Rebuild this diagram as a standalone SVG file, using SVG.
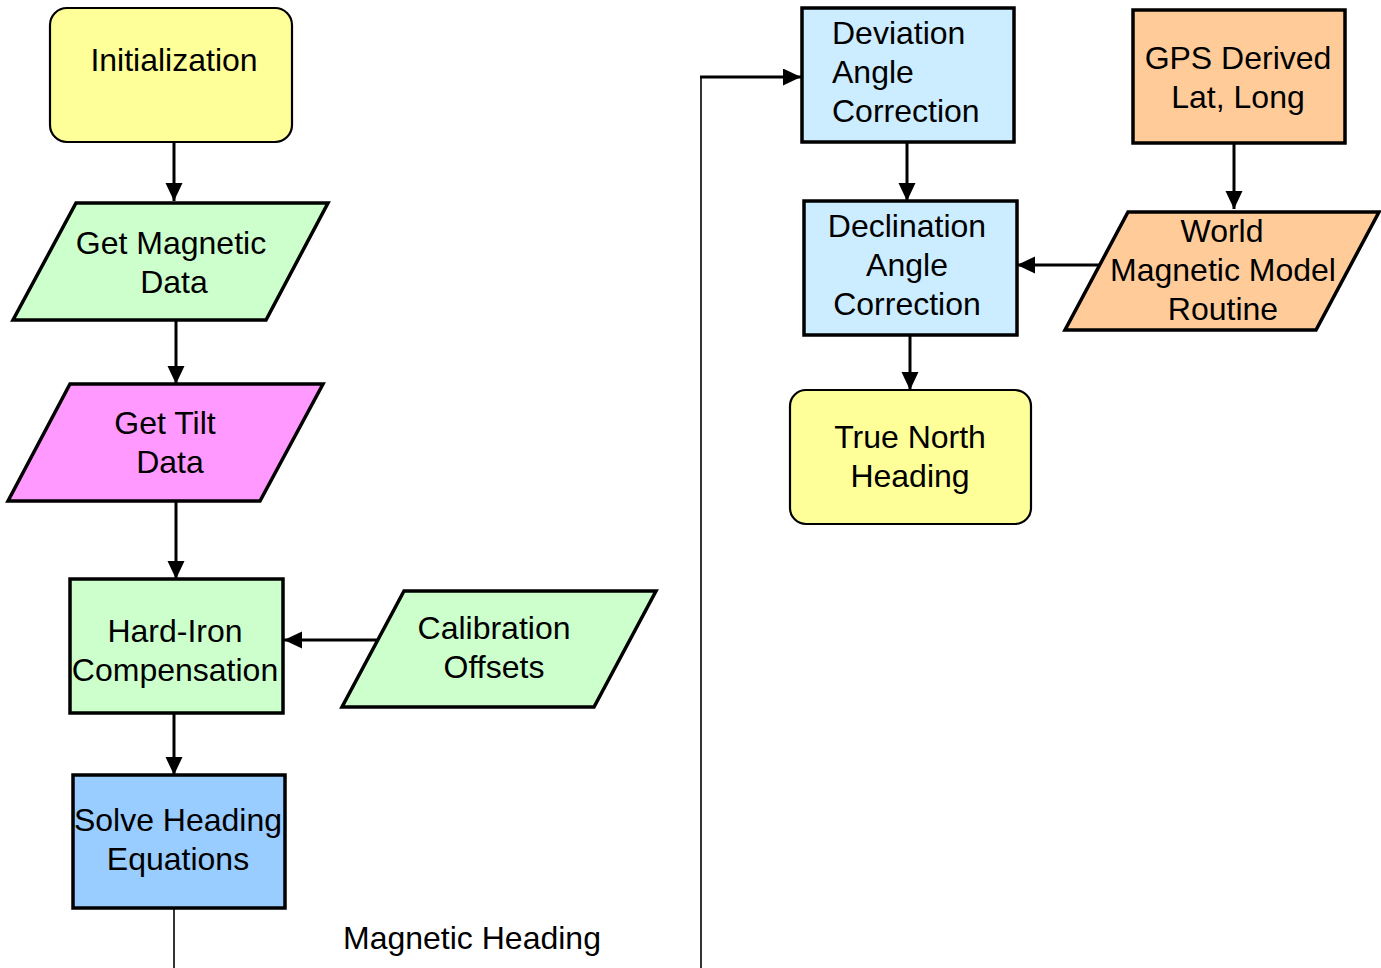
<svg xmlns="http://www.w3.org/2000/svg" width="1381" height="968" viewBox="0 0 1381 968">
<defs>
<marker id="ah" markerUnits="userSpaceOnUse" markerWidth="18" markerHeight="18" refX="18" refY="8.5" orient="auto">
<path d="M0,0 L18,8.5 L0,17 z" fill="#000"/>
</marker>
<style>
.t{font-family:"Liberation Sans",Arial,sans-serif;font-size:32px;fill:#000;text-anchor:middle}
.s{stroke:#000;stroke-width:3.5}
.c{stroke:#000;stroke-width:3;fill:none}
.th{stroke:#000;stroke-width:1.6;fill:none}
</style>
</defs>
<rect width="1381" height="968" fill="#fff"/>
<g id="connectors">
<line class="c" x1="174" y1="142" x2="174" y2="201" marker-end="url(#ah)"/>
<line class="c" x1="176" y1="320" x2="176" y2="384" marker-end="url(#ah)"/>
<line class="c" x1="176" y1="501" x2="176" y2="579" marker-end="url(#ah)"/>
<line class="c" x1="377" y1="640" x2="284" y2="640" marker-end="url(#ah)"/>
<line class="c" x1="174" y1="713" x2="174" y2="775" marker-end="url(#ah)"/>
<line class="th" x1="174" y1="908" x2="174" y2="968"/>
<line class="th" x1="701" y1="968" x2="701" y2="77"/>
<line class="c" x1="700" y1="77" x2="801" y2="77" marker-end="url(#ah)"/>
<line class="c" x1="907" y1="142" x2="907" y2="201" marker-end="url(#ah)"/>
<line class="c" x1="1234" y1="143" x2="1234" y2="209" marker-end="url(#ah)"/>
<line class="c" x1="1101" y1="265" x2="1017" y2="265" marker-end="url(#ah)"/>
<line class="c" x1="910" y1="335" x2="910" y2="390" marker-end="url(#ah)"/>
</g>
<g id="initialization">
<rect x="50" y="8" width="242" height="134" rx="17" fill="#FFFF99" stroke="#000" stroke-width="2.2"/>
<text class="t" x="174" y="71">Initialization</text>
</g>
<g id="get-magnetic-data">
<polygon class="s" points="76,203 328,203 266,320 13,320" fill="#CCFFCC"/>
<text class="t" x="171" y="254">Get Magnetic</text>
<text class="t" x="174" y="293">Data</text>
</g>
<g id="get-tilt-data">
<polygon class="s" points="70,384 323,384 260,501 8,501" fill="#FF99FF"/>
<text class="t" x="165" y="434">Get Tilt</text>
<text class="t" x="170" y="473">Data</text>
</g>
<g id="hard-iron">
<rect class="s" x="70" y="579" width="213" height="134" fill="#CCFFCC"/>
<text class="t" x="175" y="642">Hard-Iron</text>
<text class="t" x="175" y="681">Compensation</text>
</g>
<g id="calibration-offsets">
<polygon class="s" points="404,591 656,591 594,707 342,707" fill="#CCFFCC"/>
<text class="t" x="494" y="639">Calibration</text>
<text class="t" x="494" y="678">Offsets</text>
</g>
<g id="solve-heading">
<rect class="s" x="73" y="775" width="212" height="133" fill="#99CCFF"/>
<text class="t" x="178" y="831">Solve Heading</text>
<text class="t" x="178" y="870">Equations</text>
</g>
<g id="magnetic-heading-label">
<text class="t" x="343" y="949" style="text-anchor:start">Magnetic Heading</text>
</g>
<g id="deviation">
<rect class="s" x="802" y="8" width="212" height="134" fill="#CCECFF"/>
<text class="t" x="832" y="44" style="text-anchor:start">Deviation</text>
<text class="t" x="832" y="83" style="text-anchor:start">Angle</text>
<text class="t" x="832" y="122" style="text-anchor:start">Correction</text>
</g>
<g id="gps">
<rect class="s" x="1133" y="10" width="212" height="133" fill="#FFCC99"/>
<text class="t" x="1238" y="69">GPS Derived</text>
<text class="t" x="1238" y="108">Lat, Long</text>
</g>
<g id="declination">
<rect class="s" x="804" y="201" width="213" height="134" fill="#CCECFF"/>
<text class="t" x="907" y="237">Declination</text>
<text class="t" x="907" y="276">Angle</text>
<text class="t" x="907" y="315">Correction</text>
</g>
<g id="wmm">
<polygon class="s" points="1128,212 1379,212 1316,330 1065,330" fill="#FFCC99"/>
<text class="t" x="1222" y="242">World</text>
<text class="t" x="1223" y="281">Magnetic Model</text>
<text class="t" x="1223" y="320">Routine</text>
</g>
<g id="true-north">
<rect x="790" y="390" width="241" height="134" rx="16" fill="#FFFF99" stroke="#000" stroke-width="2.2"/>
<text class="t" x="910" y="448">True North</text>
<text class="t" x="910" y="487">Heading</text>
</g>
</svg>
